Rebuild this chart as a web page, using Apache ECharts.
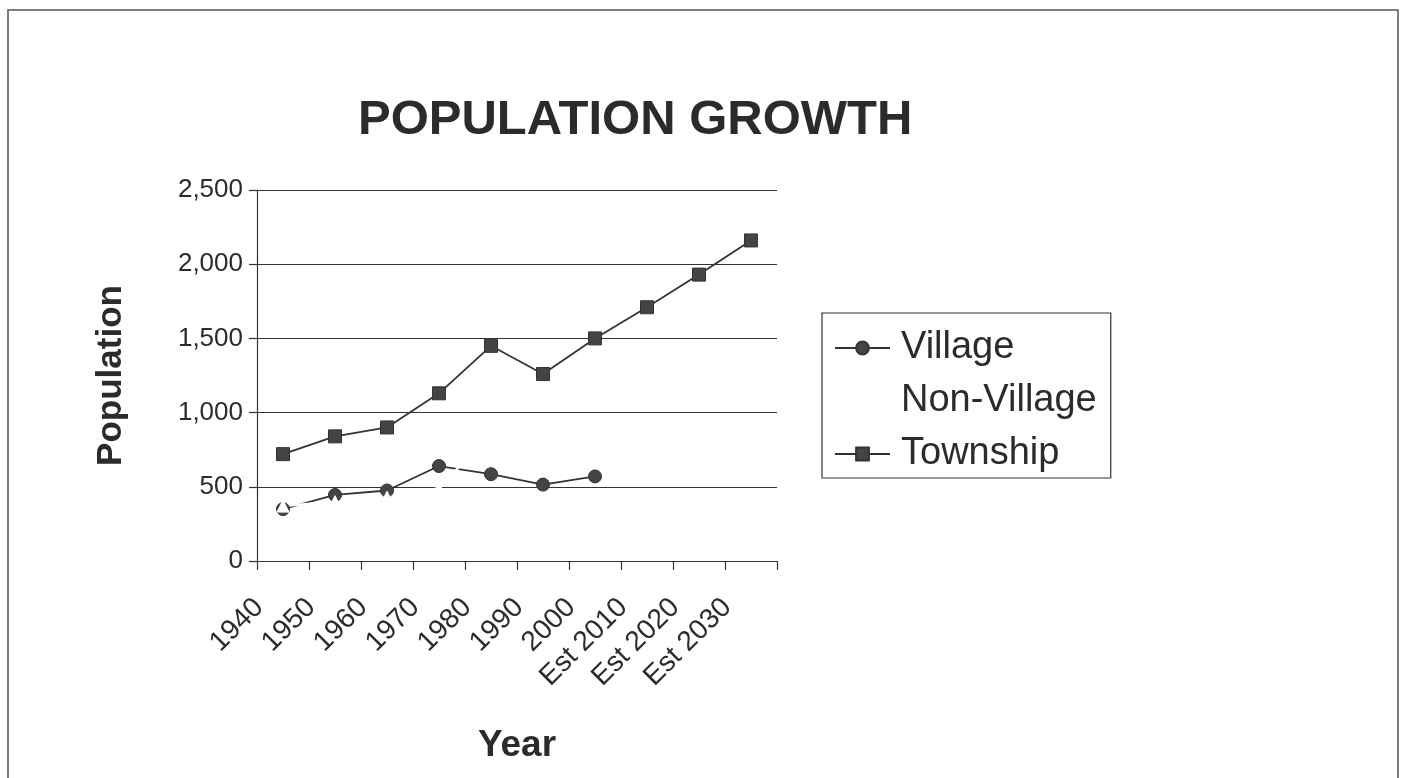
<!DOCTYPE html>
<html>
<head>
<meta charset="utf-8">
<script src="https://cdn.jsdelivr.net/npm/echarts@6/dist/echarts.min.js"></script>
<style>
html,body{margin:0;padding:0;background:#fff;}
#chart{width:1407px;height:778px;}
</style>
</head>
<body>
<div id="chart"></div>
<script>
const categories = ['1940','1950','1960','1970','1980','1990','2000','Est 2010','Est 2020','Est 2030'];
const village = [350, 445, 475, 640, 585, 515, 570, null, null, null];
const nonVillage = [370, 400, 430, 490, 865, 745, 930, null, null, null];
const township = [720, 840, 900, 1130, 1450, 1260, 1500, 1710, 1930, 2160];
const yTicks = { min: 0, max: 2500, interval: 500 };

const FONT = '"Liberation Sans", Arial, sans-serif';
const INK = '#2b2b2b';

const chart = echarts.init(document.getElementById('chart'));
chart.setOption({
  backgroundColor: '#fff',
  animation: false,
  graphic: [{
    type: 'rect',
    shape: { x: 8, y: 10, width: 1390, height: 820 },
    style: { fill: 'none', stroke: '#555', lineWidth: 1.5 },
    silent: true
  }],
  title: {
    text: 'POPULATION GROWTH',
    left: 353,
    top: 91,
    textStyle: { fontFamily: FONT, fontSize: 49, fontWeight: 'bold', color: INK }
  },
  legend: {
    orient: 'vertical',
    left: 822,
    top: 313,
    padding: [16, 14, 5, 12],
    borderColor: '#333',
    borderWidth: 1.2,
    borderRadius: 0,
    itemWidth: 55,
    itemHeight: 16,
    itemGap: 15,
    selectedMode: false,
    textStyle: { fontFamily: FONT, fontSize: 38, color: INK, padding: [0, 0, 0, 6] },
    data: ['Village', 'Non-Village', 'Township']
  },
  grid: { left: 257, right: 630, top: 190, bottom: 217, containLabel: false },
  xAxis: {
    type: 'category',
    data: categories,
    boundaryGap: true,
    name: 'Year',
    nameLocation: 'middle',
    nameGap: 166,
    nameTextStyle: { fontFamily: FONT, fontSize: 37, fontWeight: 'bold', color: INK },
    axisLine: { lineStyle: { color: '#333', width: 1.2 } },
    axisTick: { show: true, length: 9, inside: false, alignWithLabel: false, lineStyle: { color: '#333', width: 1.2 } },
    axisLabel: { rotate: 45, fontFamily: FONT, fontSize: 28, color: INK, margin: 18, interval: 0, padding: [0, 34, 0, 0] },
    splitLine: { show: false }
  },
  yAxis: {
    type: 'value',
    min: yTicks.min,
    max: yTicks.max,
    interval: yTicks.interval,
    name: 'Population',
    nameLocation: 'middle',
    nameGap: 128,
    nameRotate: 90,
    nameTextStyle: { fontFamily: FONT, fontSize: 35, fontWeight: 'bold', color: INK },
    axisLine: { show: true, lineStyle: { color: '#333', width: 1.2 } },
    axisTick: { show: true, length: 8, lineStyle: { color: '#333', width: 1.2 } },
    axisLabel: {
      fontFamily: FONT, fontSize: 26, color: INK, margin: 14,
      formatter: v => v.toLocaleString('en-US')
    },
    splitLine: { show: true, lineStyle: { color: '#333', width: 1.2 } }
  },
  series: [
    {
      name: 'Village', type: 'line', data: village,
      symbol: 'circle', symbolSize: 13,
      lineStyle: { color: '#333', width: 1.8 },
      itemStyle: { color: '#444', borderColor: '#333', borderWidth: 1 },
      connectNulls: false
    },
    {
      name: 'Non-Village', type: 'line', data: nonVillage,
      symbol: 'triangle', symbolSize: 12,
      lineStyle: { color: '#fff', width: 2.5 },
      itemStyle: { color: '#fff', borderColor: '#fff', borderWidth: 1 }
    },
    {
      name: 'Township', type: 'line', data: township,
      symbol: 'rect', symbolSize: 13,
      lineStyle: { color: '#333', width: 1.8 },
      itemStyle: { color: '#444', borderColor: '#333', borderWidth: 1 }
    }
  ]
});
</script>
</body>
</html>
